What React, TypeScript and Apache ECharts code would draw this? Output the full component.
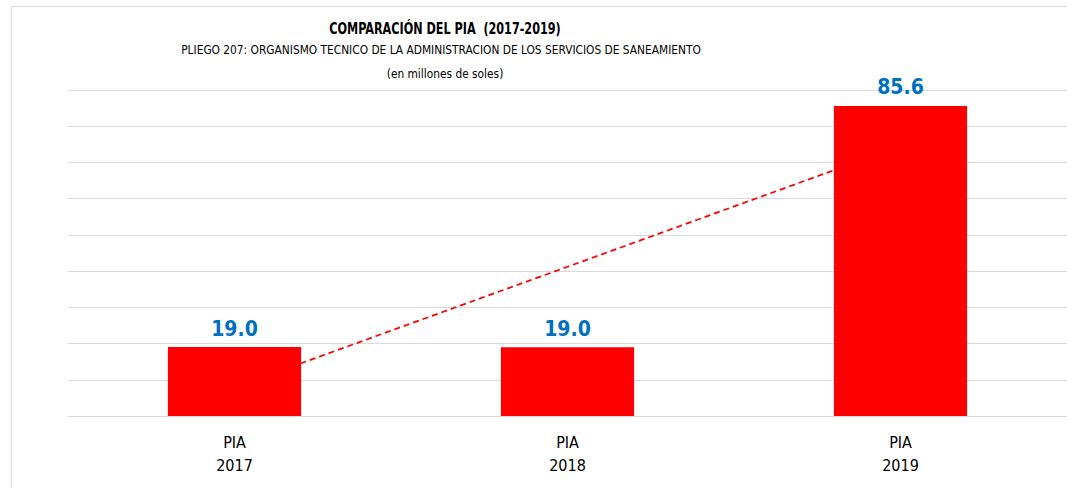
import React, { useEffect, useRef } from "react";
import * as echarts from "echarts";

const categories = ["PIA\n2017", "PIA\n2018", "PIA\n2019"];
const piaValues = [19.04, 18.96, 85.6];
const trendValues = [7.9, 41.2, 74.5];
const titleText = "COMPARACIÓN DEL PIA  (2017-2019)";
const subtitleText = "PLIEGO 207: ORGANISMO TECNICO DE LA ADMINISTRACION DE LOS SERVICIOS DE SANEAMIENTO";
const unitText = "(en millones de soles)";

const FONT = "'Liberation Sans Narrow', 'DejaVu Sans Condensed', 'Noto Sans', sans-serif";

export default function App() {
  const ref = useRef<HTMLDivElement>(null);
  useEffect(() => {
    if (!ref.current) return;
    const chart = echarts.init(ref.current, null, { renderer: "svg" });
    chart.setOption({
      animation: false,
      backgroundColor: "#ffffff",
      graphic: [
        {
          type: "rect",
          shape: { x: 11.5, y: 6.5, width: 1100, height: 600 },
          style: { fill: "none", stroke: "#d9d9d9", lineWidth: 1 },
          silent: true,
        },
        {
          type: "text",
          x: 445,
          y: 28,
          scaleX: 0.78,
          style: {
            text: titleText,
            font: `bold 16px ${FONT}`,
            fill: "#000000",
            align: "center",
            verticalAlign: "middle",
          },
        },
        {
          type: "text",
          x: 441,
          y: 49,
          scaleX: 0.91,
          style: {
            text: subtitleText,
            font: `13px ${FONT}`,
            fill: "#000000",
            align: "center",
            verticalAlign: "middle",
          },
        },
        {
          type: "text",
          x: 445,
          y: 73,
          scaleX: 0.91,
          style: {
            text: unitText,
            font: `13px ${FONT}`,
            fill: "#000000",
            align: "center",
            verticalAlign: "middle",
          },
        },
      ],
      grid: { left: 68, right: -1, top: 90, bottom: 72, containLabel: false },
      xAxis: {
        type: "category",
        data: categories,
        boundaryGap: true,
        axisLine: { show: true, lineStyle: { color: "#d9d9d9" } },
        axisTick: { show: false },
        axisLabel: {
          color: "#000000",
          fontSize: 16,
          lineHeight: 23,
          margin: 15,
          fontFamily: FONT,
        },
      },
      yAxis: {
        type: "value",
        min: 0,
        max: 90,
        interval: 10,
        axisLabel: { show: false },
        axisLine: { show: false },
        axisTick: { show: false },
        splitLine: { lineStyle: { color: "#d9d9d9", width: 1 } },
      },
      series: [
        {
          type: "line",
          data: trendValues,
          z: 1,
          symbol: "none",
          lineStyle: { color: "#ff0000", width: 1.75, type: [6, 4] },
          silent: true,
        },
        {
          type: "bar",
          data: piaValues,
          z: 3,
          barWidth: "40%",
          itemStyle: { color: "#ff0000" },
          label: {
            show: true,
            position: "top",
            distance: 8,
            color: "#0070c0",
            fontWeight: "bold",
            fontSize: 21,
            fontFamily: FONT,
            formatter: (p: any) => Number(p.value).toFixed(1),
          },
        },
      ],
    });
    return () => chart.dispose();
  }, []);
  return (
    <div
      ref={ref}
      style={{ position: "fixed", left: 0, top: 0, width: 1067, height: 488 }}
    />
  );
}
